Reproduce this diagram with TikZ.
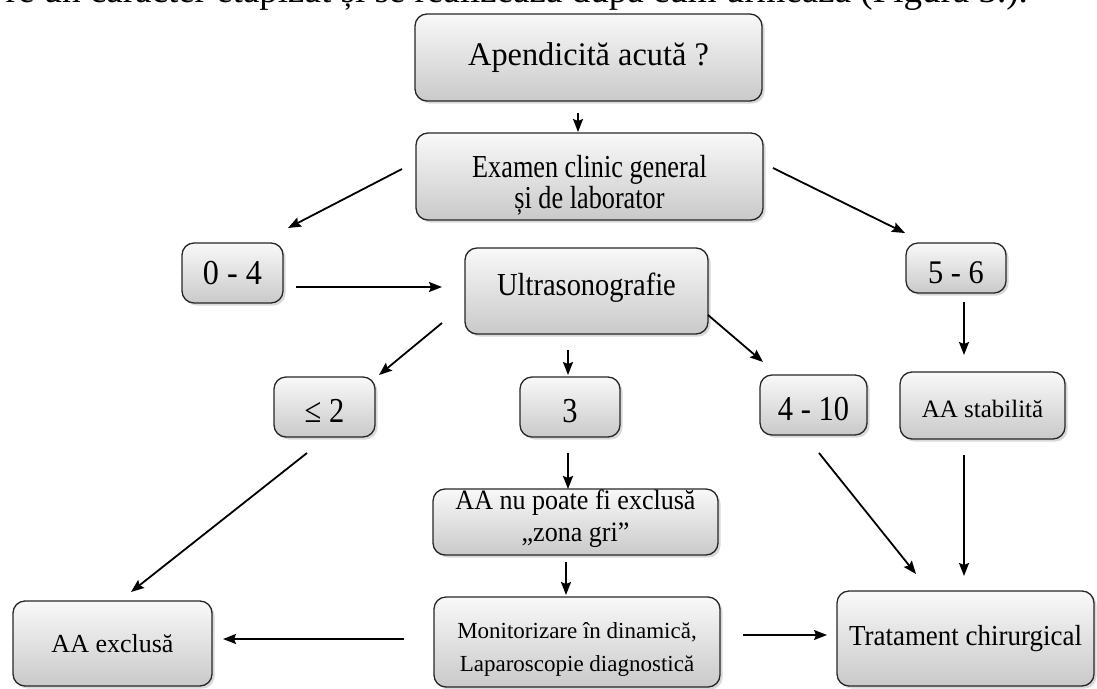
\documentclass[tikz,border=0pt]{standalone}
\usepackage{fontspec}
\setmainfont{Liberation Serif}
\usetikzlibrary{arrows.meta,shadows}
\newcommand\boxfont[3]{\fontsize{#1}{#2}\selectfont\addfontfeatures{FakeStretch=#3}}
\newcommand\twolines[2]{\begin{tabular}[t]{@{}c@{}}#1\\#2\end{tabular}}
\begin{document}
\begin{tikzpicture}[x=1pt,y=-1pt,
  box/.style={draw=black!85, line width=1.3pt, rounded corners=12pt,
    top color=gray!5, bottom color=gray!42,
    drop shadow={shadow xshift=2.5pt,shadow yshift=-2.5pt,opacity=0.3},
    inner sep=0pt, align=center},
  arr/.style={line width=1.8pt, -{Stealth[length=13pt,width=10pt,inset=2pt]}},
  ]
\useasboundingbox (0,0) rectangle (1097,688);
\clip (0,0) rectangle (1097,688);
\node[anchor=base east, inner sep=0pt, font=\boxfont{37}{40}{1}] (toptext) at (1028,2)
  {re un caracter etapizat și se realizează după cum urmează (Figura 3.).};

\node[box, minimum width=347pt, minimum height=87pt, font=\boxfont{33}{36}{0.98}] (title) at (588.5,57.5) {Apendicită acută ?};
\node[box, minimum width=347pt, minimum height=87pt, font=\boxfont{32}{30}{0.82}, text height=40pt, text depth=39pt] (exam) at (589.5,176.5) {\twolines{Examen clinic general}{și de laborator}};
\node[box, minimum width=101pt, minimum height=60pt, font=\boxfont{35}{36}{0.92}] (b04) at (232.5,273) {0 - 4};
\node[box, minimum width=243pt, minimum height=86pt, font=\boxfont{32}{36}{0.89}, text height=22pt, text depth=14pt] (ultra) at (586.5,291) {Ultrasonografie};
\node[box, minimum width=100pt, minimum height=50pt, font=\boxfont{33}{36}{0.92}, text height=31pt, text depth=0pt] (b56) at (956,268) {5 - 6};
\node[box, minimum width=101pt, minimum height=60pt, font=\boxfont{35}{36}{0.87}, text height=31pt, text depth=0pt] (le2) at (324.5,407) {≤ 2};
\node[box, minimum width=100pt, minimum height=60pt, font=\boxfont{35}{36}{0.87}, text height=31pt, text depth=0pt] (b3) at (570,407) {3};
\node[box, minimum width=107pt, minimum height=60pt, font=\boxfont{35}{36}{0.87}, text height=31pt, text depth=0pt] (b410) at (813.5,405) {4 - 10};
\node[box, minimum width=165pt, minimum height=67pt, font=\boxfont{25}{30}{1}, text height=23pt, text depth=0pt] (stab) at (982.5,405.5) {AA stabilită};
\node[box, minimum width=285pt, minimum height=62pt, font=\boxfont{28}{32}{0.93}, text height=20pt, text depth=46pt] (nu) at (575.5,522) {\twolines{AA nu poate fi exclusă}{„zona gri”}};
\node[box, minimum width=199pt, minimum height=85pt, font=\boxfont{26}{30}{1}] (excl) at (112.5,643.5) {AA exclusă};
\node[box, minimum width=286pt, minimum height=90pt, font=\boxfont{23}{33}{1}, text height=30pt, text depth=38pt] (mon) at (577,642) {\twolines{Monitorizare în dinamică,}{Laparoscopie diagnostică}};
\node[box, minimum width=257pt, minimum height=95pt, font=\boxfont{29}{33}{0.93}] (trat) at (965.5,638.5) {Tratament chirurgical};

% arrow end points (arrows float between the boxes)
\coordinate (titleOut) at (578,113);  \coordinate (examIn) at (578,132);
\coordinate (examOutL) at (402,169);  \coordinate (b04In) at (288,228);
\coordinate (examOutR) at (773,168);  \coordinate (b56In) at (905,233);
\coordinate (b04Out) at (296,287);    \coordinate (ultraIn) at (442,287);
\coordinate (ultraOutL) at (442,323); \coordinate (le2In) at (379,375);
\coordinate (ultraOutM) at (568,350); \coordinate (b3In) at (568,375);
\coordinate (ultraOutR) at (708,315); \coordinate (b410In) at (763,362);
\coordinate (b56Out) at (964,302);    \coordinate (stabIn) at (964,355);
\coordinate (b3Out) at (568,453);     \coordinate (nuIn) at (568,489);
\coordinate (le2Out) at (307,453);    \coordinate (exclIn) at (131,592);
\coordinate (nuOut) at (566,562);     \coordinate (monIn) at (566,595);
\coordinate (monOutL) at (404,639);   \coordinate (exclInR) at (223,639);
\coordinate (monOutR) at (743,635);   \coordinate (tratInL) at (827,635);
\coordinate (b410Out) at (819,453);   \coordinate (tratInT) at (916,574);
\coordinate (stabOut) at (964,455);   \coordinate (tratInR) at (964,576);

\draw[arr] (titleOut) -- (examIn);
\draw[arr] (examOutL) -- (b04In);
\draw[arr] (examOutR) -- (b56In);
\draw[arr] (b04Out) -- (ultraIn);
\draw[arr] (ultraOutL) -- (le2In);
\draw[arr] (ultraOutM) -- (b3In);
\draw[arr] (ultraOutR) -- (b410In);
\draw[arr] (b56Out) -- (stabIn);
\draw[arr] (b3Out) -- (nuIn);
\draw[arr] (le2Out) -- (exclIn);
\draw[arr] (nuOut) -- (monIn);
\draw[arr] (monOutL) -- (exclInR);
\draw[arr] (monOutR) -- (tratInL);
\draw[arr] (b410Out) -- (tratInT);
\draw[arr] (stabOut) -- (tratInR);
\end{tikzpicture}
\end{document}
